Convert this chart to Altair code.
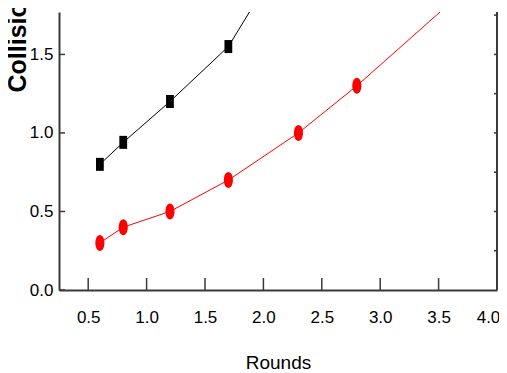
import altair as alt
import pandas as pd

# ---- data ----
rounds_black = [0.6, 0.8, 1.2, 1.7, 2.3]
coll_black = [0.80, 0.94, 1.20, 1.55, 2.28]
rounds_red = [0.6, 0.8, 1.2, 1.7, 2.3, 2.8, 3.8]
coll_red = [0.30, 0.40, 0.50, 0.70, 1.00, 1.30, 1.96]
x_ticks = [0.5, 1.0, 1.5, 2.0, 2.5, 3.0, 3.5, 4.0]
y_ticks = [0.0, 0.5, 1.0, 1.5]
y_minor = [0.25, 0.5, 0.75, 1.0, 1.25, 1.5, 1.75]

X_DOMAIN = [0.25, 4.0]
Y_DOMAIN = [0.0, 1.77]
W, H = 438, 278
FONT = "Liberation Sans Narrow, Arial Narrow, Liberation Sans, Arial, sans-serif"
AXIS_COLOR = "#3a3a3a"

df = pd.concat([
    pd.DataFrame({"rounds": rounds_black, "coll": coll_black, "series": "A"}),
    pd.DataFrame({"rounds": rounds_red, "coll": coll_red, "series": "B"}),
], ignore_index=True)

xscale = alt.Scale(domain=X_DOMAIN, nice=False, zero=False)
yscale = alt.Scale(domain=Y_DOMAIN, nice=False, zero=False)

square = "M-0.6,-1H0.6V1H-0.6Z"
ellipse = "M0,-1A0.57,1,0,1,1,0,1A0.57,1,0,1,1,0,-1Z"

x_axis = alt.Axis(values=x_ticks, format=".1f", ticks=False, grid=False,
                  domainColor=AXIS_COLOR, domainWidth=2, labelFlush=False,
                  labelOverlap=False, labelFont=FONT, labelFontSize=17,
                  labelColor="black", labelPadding=32, labelBaseline="alphabetic",
                  labelOffset={"condition": {"test": "datum.value >= 4", "value": -9}, "value": 0},
                  title="Rounds", titleFont=FONT, titleFontSize=19,
                  titleFontWeight="normal", titleColor="black",
                  titleY=78, titleBaseline="alphabetic")
y_axis = alt.Axis(values=y_ticks, format=".1f", ticks=False, grid=False,
                  domainColor=AXIS_COLOR, domainWidth=2, labelFlush=False,
                  labelOverlap=False, labelFont=FONT, labelFontSize=17,
                  labelColor="black", labelPadding=6,
                  title="Collisions", titleFont="Liberation Sans, Arial, sans-serif",
                  titleFontSize=25, titleFontWeight="bold", titleColor="black",
                  titleAngle=270, titleAlign="left", titleBaseline="middle",
                  titleX=-42, titleY=80)

X = lambda: alt.X("rounds:Q", scale=xscale, axis=x_axis)
Y = lambda: alt.Y("coll:Q", scale=yscale, axis=y_axis)

color = alt.Color("series:N", scale=alt.Scale(domain=["A", "B"], range=["black", "#ff0000"]), legend=None)

lines = alt.Chart(df).mark_line(clip=True, strokeWidth=1).encode(
    x=X(), y=Y(), color=color, detail="series:N",
)

points = alt.Chart(df).mark_point(clip=True, filled=True, opacity=1).encode(
    x=X(), y=Y(), color=color,
    shape=alt.Shape("series:N", scale=alt.Scale(domain=["A", "B"], range=[square, ellipse]), legend=None),
    size=alt.Size("series:N", scale=alt.Scale(domain=["A", "B"], range=[169, 256]), legend=None),
)

xt = alt.Chart(pd.DataFrame({"rounds": x_ticks})).mark_rule(color=AXIS_COLOR, strokeWidth=1.5).encode(
    x=X(), y=alt.value(H), y2=alt.value(H - 12),
)

yt = alt.Chart(pd.DataFrame({"coll": y_ticks})).mark_rule(color=AXIS_COLOR, strokeWidth=1.5).encode(
    y=Y(), x=alt.value(0), x2=alt.value(6),
)

right_line = alt.Chart(pd.DataFrame({"k": [0]})).mark_rule(color=AXIS_COLOR, strokeWidth=2).encode(
    x=alt.value(W), y=alt.value(0), y2=alt.value(H),
)

right_ticks = alt.Chart(pd.DataFrame({"coll": y_minor})).mark_rule(color=AXIS_COLOR, strokeWidth=1.5).encode(
    y=Y(), x=alt.value(W), x2=alt.value(W - 3),
)

chart = alt.layer(lines, points, xt, yt, right_line, right_ticks).properties(
    width=W, height=H,
    padding={"left": 51, "top": 4, "right": 2, "bottom": 82},
    autosize=alt.AutoSizeParams(type="none"),
).configure_view(stroke=None)

chart.save("out.html", embed_options={"renderer": "svg", "actions": False})
